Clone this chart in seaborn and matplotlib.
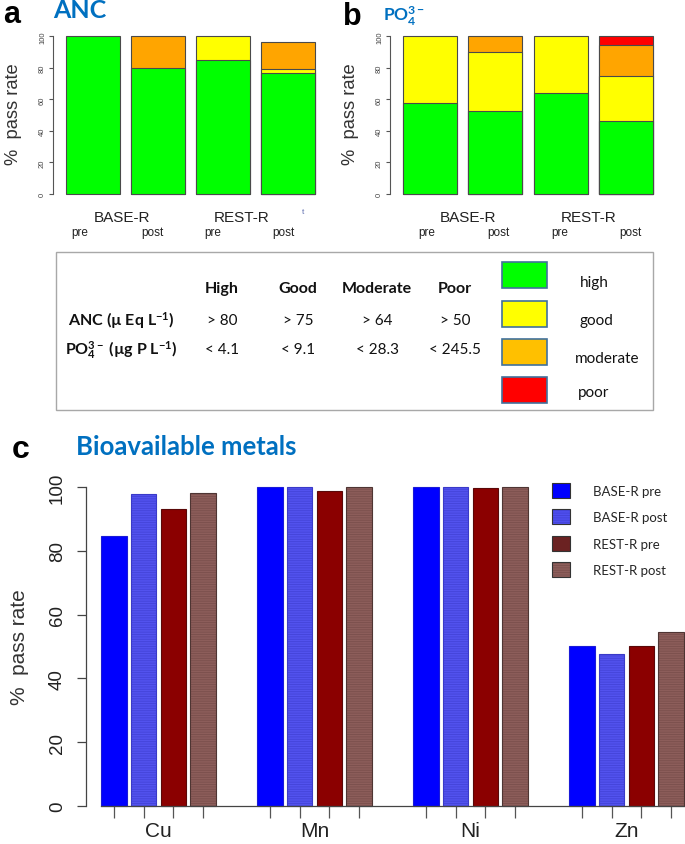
import numpy as np
import pandas as pd
import matplotlib
matplotlib.use("Agg")
import matplotlib.pyplot as plt
import matplotlib.patches as mpatches
from matplotlib.font_manager import FontProperties
import seaborn as sns

# ---------------- data ----------------
conditions = ["BASE-R pre", "BASE-R post", "REST-R pre", "REST-R post"]
status_levels = ["high", "good", "moderate", "poor"]

anc_high = [100, 80, 85, 77]
anc_good = [0, 0, 15, 2]
anc_moderate = [0, 20, 0, 17.5]
anc_poor = [0, 0, 0, 0]

po4_high = [58, 52.5, 64, 46]
po4_good = [42, 37.5, 36, 29]
po4_moderate = [0, 10, 0, 19.5]
po4_poor = [0, 0, 0, 5.5]

metals = ["Cu", "Mn", "Ni", "Zn"]
base_pre = [84.5, 100, 100, 50.3]
base_post = [97.8, 100, 100, 47.6]
rest_pre = [93.1, 98.6, 99.8, 50.1]
rest_post = [98.1, 100, 100, 54.6]

table_classes = ["High", "Good", "Moderate", "Poor"]
anc_thresholds = ["> 80", "> 75", "> 64", "> 50"]
po4_thresholds = ["< 4.1", "< 9.1", "< 28.3", "< 245.5"]
y_ticks = [0, 20, 40, 60, 80, 100]

# ---------------- style ----------------
W, H = 685, 845
sns.set_theme(style="white")
plt.rcParams["font.family"] = ["Liberation Sans", "DejaVu Sans"]
plt.rcParams["mathtext.fontset"] = "custom"
plt.rcParams["mathtext.rm"] = "Lato"
plt.rcParams["mathtext.bf"] = "Lato:bold"
plt.rcParams["mathtext.it"] = "Lato:italic"
plt.rcParams["hatch.linewidth"] = 0.6

fig = plt.figure(figsize=(W / 100, H / 100), dpi=100)


def box(l, r, top, bottom):
    return [l / W, 1 - bottom / H, (r - l) / W, (bottom - top) / H]


def fx(x):
    return x / W


def fy(y):
    return 1 - y / H


def set_hatch_color(p, color):
    if hasattr(p, "set_hatchcolor"):
        p.set_hatchcolor(color)
    else:
        p._hatch_color = matplotlib.colors.to_rgba(color)


level_colors = {"high": "#00FF00", "good": "#FFFF00",
                "moderate": "#FFA500", "poor": "#FF0000"}
AX_GRAY = "#555555"


def stacked_panel(ax, layers):
    vals = np.array(layers, dtype=float)
    cum = np.cumsum(vals, axis=0)
    for lvl, top, v in reversed(list(zip(status_levels, cum, vals))):
        y = np.where(v > 0, top, np.nan)
        sns.barplot(x=conditions, y=y, order=conditions,
                    color=level_colors[lvl], saturation=1, width=0.83,
                    edgecolor="#4a4a4a", linewidth=0.8, ax=ax)
    ax.set_xlim(-0.615, 3.615)
    ax.set_ylim(-4, 104)
    for s in ["top", "right", "bottom"]:
        ax.spines[s].set_visible(False)
    ax.spines["left"].set_bounds(0, 100)
    ax.spines["left"].set_color(AX_GRAY)
    ax.spines["left"].set_linewidth(0.8)
    ax.set_yticks(y_ticks)
    ax.tick_params(axis="y", left=True, direction="out", length=3,
                   width=0.8, color=AX_GRAY, labelsize=5.5,
                   labelcolor="#444444", pad=2)
    for lab in ax.get_yticklabels():
        lab.set_rotation(90)
        lab.set_va("center")
    ax.set_xticks([])
    ax.set_xlabel("")
    ax.set_ylabel("")


# ---------------- panel a ----------------
ax_a = fig.add_axes(box(53, 328, 31, 201.3))
stacked_panel(ax_a, [anc_high, anc_good, anc_moderate, anc_poor])

# ---------------- panel b ----------------
ax_b = fig.add_axes(box(390, 666, 31, 201.3))
stacked_panel(ax_b, [po4_high, po4_good, po4_moderate, po4_poor])

lab_font = dict(family=["Liberation Sans", "DejaVu Sans"], color="#222222")
for xs, xp in [((122, 242), (80, 152, 213, 283)),
               ((468, 589), (427, 498, 560, 630))]:
    fig.text(fx(xs[0]), fy(218), "BASE-R", ha="center", va="center", size=11, **lab_font)
    fig.text(fx(xs[1]), fy(218), "REST-R", ha="center", va="center", size=11, **lab_font)
    for x, t in zip(xp, ["pre", "post", "pre", "post"]):
        fig.text(fx(x), fy(233), t, ha="center", va="center", size=8.5, **lab_font)

fig.text(fx(303), fy(212), "t", ha="center", va="center", size=6, color="#6070b0")

for x, y in [(14, 114), (350, 114)]:
    fig.text(fx(x), fy(y), "%  pass rate", rotation=90, ha="center",
             va="center", size=13.2, color="#333333")

fig.text(fx(3), fy(23), "a", ha="left", va="baseline", size=22,
         weight="bold", color="black")
fig.text(fx(343), fy(25), "b", ha="left", va="baseline", size=22,
         weight="bold", color="black")
fig.text(fx(53), fy(18), "ANC", ha="left", va="baseline", size=18,
         weight="bold", family="Lato", color="#0070C0")
fig.text(fx(383), fy(22), r"PO$_{\mathbf{4}}^{\mathbf{3-}}$", ha="left",
         va="baseline", size=12.5, weight="bold", family="Lato",
         color="#0070C0")

# ---------------- table ----------------
fig.add_artist(mpatches.Rectangle((fx(56), fy(411)), (653 - 56) / W,
                                  (411 - 253) / H, transform=fig.transFigure,
                                  fill=False, edgecolor="#a8a8a8",
                                  linewidth=1.0))
col_x = [222, 298, 377, 455]
tfont = dict(family="Lato", color="#111111")
for x, t in zip(col_x, table_classes):
    fig.text(fx(x), fy(289), t, ha="center", va="center", size=11.5,
             weight="bold", **tfont)
for x, t in zip(col_x, anc_thresholds):
    fig.text(fx(x), fy(321), t, ha="center", va="center", size=11, **tfont)
for x, t in zip(col_x, po4_thresholds):
    fig.text(fx(x), fy(350), t, ha="center", va="center", size=11, **tfont)
fig.text(fx(121), fy(321), r"ANC (µ Eq L$^{\mathbf{-1}}$)", ha="center",
         va="center", size=11.5, weight="bold", **tfont)
fig.text(fx(121), fy(350), r"PO$_{\mathbf{4}}^{\mathbf{3-}}$ (µg P L$^{\mathbf{-1}}$)",
         ha="center", va="center", size=11.5, weight="bold", **tfont)

key_colors = ["#00FF00", "#FFFF00", "#FFC000", "#FF0000"]
key_tops = [263, 302, 340, 378]
key_label_xy = [(580, 283), (580, 321), (575, 359), (578, 393)]
for c, top, (lx, ly), name in zip(key_colors, key_tops, key_label_xy,
                                  status_levels):
    fig.add_artist(mpatches.Rectangle((fx(502), fy(top + 26)), 45 / W, 26 / H,
                                      transform=fig.transFigure,
                                      facecolor=c, edgecolor="#41719C",
                                      linewidth=1.2))
    fig.text(fx(lx), fy(ly), name, ha="left", va="center", size=11, **tfont)

# ---------------- panel c ----------------
ax_c = fig.add_axes(box(86, 700, 475.2, 819.8))
df_c = pd.DataFrame({
    "metal": metals * 4,
    "group": np.repeat(conditions, len(metals)),
    "value": base_pre + base_post + rest_pre + rest_post,
})
bar_colors = ["#0000FF", "#5252EE", "#8B0000", "#8C5D5A"]
sns.barplot(data=df_c, x="metal", y="value", hue="group", order=metals,
            hue_order=conditions, palette=bar_colors, saturation=1,
            width=0.7615, gap=0.141, legend=False, ax=ax_c)
edge_cols = ["#1a1ad8", "#3a3ac8", "#5a0808", "#4e3533"]
hatches = [None, "-------", None, "-------"]
hatch_cols = [None, "#4343D8", None, "#7A4F4C"]
for cont, ec, ht, hc in zip(ax_c.containers, edge_cols, hatches, hatch_cols):
    for p in cont:
        p.set_edgecolor(ec)
        p.set_linewidth(0.8)
        if ht:
            p.set_hatch(ht)
            set_hatch_color(p, hc)

ax_c.set_xlim(-0.465, 3.471)
ax_c.set_ylim(-4, 104)
for s in ["top", "right"]:
    ax_c.spines[s].set_visible(False)
ax_c.spines["left"].set_bounds(0, 100)
ax_c.spines["left"].set_color("#444444")
ax_c.spines["left"].set_linewidth(0.9)
lefts = [p.get_x() for p in ax_c.patches]
centers = sorted(p.get_x() + p.get_width() / 2 for p in ax_c.patches)
ax_c.spines["bottom"].set_position(("data", 0))
ax_c.spines["bottom"].set_bounds(min(lefts), 3.471)
ax_c.spines["bottom"].set_color("#444444")
ax_c.spines["bottom"].set_linewidth(0.9)
ax_c.set_yticks(y_ticks)
ax_c.tick_params(axis="y", left=True, direction="out", length=6.5,
                 width=0.9, color="#444444", labelsize=13.5,
                 labelcolor="#222222", pad=8)
for lab in ax_c.get_yticklabels():
    lab.set_rotation(90)
    lab.set_va("center")
ax_c.set_xticks(centers)
ax_c.set_xticklabels([""] * len(centers))
ax_c.set_xticks(range(len(metals)), minor=True)
ax_c.set_xticklabels(metals, minor=True)
ax_c.tick_params(axis="x", which="major", bottom=True, direction="out",
                 length=8.6, width=0.9, color="#555555")
ax_c.tick_params(axis="x", which="minor", bottom=True, length=0,
                 labelsize=15, labelcolor="#222222", pad=11)
ax_c.set_xlabel("")
ax_c.set_ylabel("")

fig.text(fx(20), fy(647), "%  pass rate", rotation=90, ha="center",
         va="center", size=15, color="#333333")
fig.text(fx(12), fy(458), "c", ha="left", va="baseline", size=23,
         weight="bold", color="black")
fig.text(fx(76), fy(455), "Bioavailable metals", ha="left", va="baseline",
         size=18.5, weight="bold", family="Lato", color="#0070C0")

legend_colors = ["#0000FF", "#4F4FEF", "#6B2222", "#8C5D5A"]
legend_hatch = [None, "-------", None, "-------"]
legend_hcol = [None, "#4343D8", None, "#7A4F4C"]
handles = []
for c, h, hc in zip(legend_colors, legend_hatch, legend_hcol):
    hp = mpatches.Patch(facecolor=c, edgecolor="#333333", linewidth=0.8, hatch=h)
    if hc:
        set_hatch_color(hp, hc)
    handles.append(hp)
fig.legend(handles, conditions, loc="upper left",
           bbox_to_anchor=(fx(552), fy(484)), frameon=False, borderpad=0,
           borderaxespad=0, handlelength=1.36, handleheight=1.36,
           handletextpad=1.74, labelspacing=0.87,
           prop=FontProperties(family="Lato", size=9.5))

fig.savefig("out.png", dpi=100, facecolor="white")
